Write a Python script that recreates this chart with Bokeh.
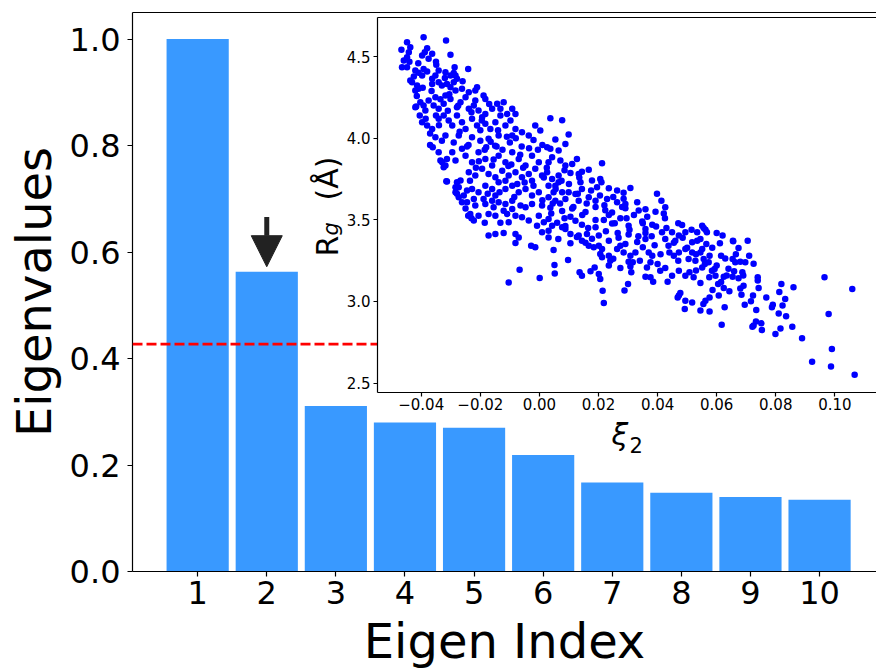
import math
from bokeh.plotting import figure
from bokeh.models import (LinearAxis, FixedTicker, Span, Arrow, NormalHead, Label,
                          Range1d, CustomJSTickFormatter, PrintfTickFormatter)
from bokeh.embed import file_html
from bokeh.resources import INLINE

FONT = "DejaVu Sans"
BAR_COLOR = "#3999ff"
DOT_COLOR = "#0000ff"
INK = "#000000"

# ---------------- main bar chart data ----------------
eigen_index = [1, 2, 3, 4, 5, 6, 7, 8, 9, 10]
eigenvalues = [1.000, 0.563, 0.311, 0.280, 0.270, 0.219, 0.167, 0.148, 0.140, 0.135]
eigen_ticks = [0.0, 0.2, 0.4, 0.6, 0.8, 1.0]
threshold = 0.427
marked_index = 2
arrow_from = 0.666
arrow_to = 0.5725

# ---------------- inset scatter data ----------------
xi2_ticks = [-0.04, -0.02, 0.0, 0.02, 0.04, 0.06, 0.08, 0.10]
rg_ticks = [2.5, 3.0, 3.5, 4.0, 4.5]

xi2 = [
    -0.0392, -0.0316, -0.0448, -0.0437, -0.0467, -0.0442, -0.0448, -0.0459, -0.0380, -0.0388,
    -0.0397, -0.0375, -0.0363, -0.0301, -0.0465, -0.0448, -0.0420, -0.0409, -0.0392, -0.0349,
    -0.0341, -0.0318, -0.0287, -0.0284, -0.0301, -0.0241, -0.0431, -0.0414, -0.0409, -0.0420,
    -0.0397, -0.0363, -0.0352, -0.0363, -0.0341, -0.0330, -0.0313, -0.0301, -0.0290, -0.0279,
    -0.0284, -0.0262, -0.0239, -0.0217, -0.0211, -0.0189, -0.0183, -0.0403, -0.0420, -0.0392,
    -0.0386, -0.0375, -0.0352, -0.0358, -0.0341, -0.0324, -0.0318, -0.0301, -0.0279, -0.0267,
    -0.0250, -0.0239, -0.0222, -0.0217, -0.0206, -0.0183, -0.0160, -0.0143, -0.0121, -0.0132,
    -0.0109, -0.0092, -0.0081, -0.0397, -0.0380, -0.0363, -0.0341, -0.0324, -0.0307, -0.0295,
    -0.0279, -0.0262, -0.0250, -0.0228, -0.0211, -0.0194, -0.0183, -0.0166, -0.0149, -0.0132,
    -0.0115, -0.0098, -0.0081, -0.0059, -0.0036, -0.0014, 0.0003, -0.0092, -0.0138, -0.0172,
    -0.0228, -0.0273, -0.0318, -0.0352, -0.0417, -0.0405, -0.0361, -0.0329, -0.0324, -0.0313,
    -0.0279, -0.0273, -0.0284, -0.0273, -0.0262, -0.0437, -0.0290, -0.0240, -0.0200, -0.0150,
    -0.0100, -0.0060, -0.0020, -0.0330, -0.0180, 0.0010, -0.0315, -0.0370, -0.0341, -0.0335,
    -0.0318, -0.0313, -0.0284, -0.0295, -0.0262, -0.0284, -0.0279, -0.0256, -0.0245, -0.0267,
    -0.0228, -0.0206, -0.0222, -0.0245, -0.0250, -0.0217, -0.0241, -0.0230, -0.0222, -0.0234,
    -0.0206, -0.0185, -0.0172, -0.0149, -0.0121, -0.0172, -0.0149, -0.0132, -0.0104, -0.0109,
    -0.0121, -0.0092, -0.0081, -0.0070, -0.0081, -0.0028, -0.0014, -0.0189, -0.0183, -0.0160,
    -0.0155, -0.0138, -0.0115, -0.0092, -0.0064, -0.0047, -0.0025, 0.0009, -0.0081, -0.0059,
    -0.0036, -0.0002, 0.0015, -0.0008, 0.0009, -0.0250, -0.0228, -0.0206, -0.0183, -0.0160,
    -0.0138, -0.0115, -0.0092, -0.0070, -0.0047, -0.0025, -0.0002, -0.0239, -0.0217, -0.0194,
    -0.0172, -0.0149, -0.0126, -0.0104, -0.0081, -0.0059, -0.0036, -0.0014, 0.0009, -0.0183,
    -0.0160, -0.0138, -0.0115, -0.0092, -0.0070, -0.0047, -0.0025, -0.0002, -0.0149, 0.0037,
    0.0077, 0.0099, 0.0054, 0.0088, 0.0065, 0.0037, 0.0026, 0.0212, 0.0127, 0.0111,
    0.0088, 0.0071, 0.0043, 0.0031, 0.0167, 0.0144, 0.0133, 0.0206, 0.0178, 0.0210,
    0.0105, 0.0085, 0.0065, 0.0043, 0.0026, 0.0235, 0.0263, 0.0285, 0.0308, 0.0398,
    0.0413, 0.0426, 0.0331, 0.0291, 0.0263, 0.0229, 0.0190, 0.0167, 0.0144, 0.0122,
    0.0099, 0.0077, 0.0048, 0.0031, 0.0054, 0.0088, 0.0133, 0.0139, 0.0031, 0.0054,
    0.0065, 0.0218, 0.0214, 0.0288, 0.0300, 0.0206, 0.0201, 0.0173, 0.0144, 0.0136,
    0.0187, 0.0097, 0.0051, 0.0052, 0.0048, 0.0064, 0.0105, 0.0311, 0.0274, 0.0235,
    0.0240, 0.0212, 0.0206, 0.0316, 0.0308, 0.0359, 0.0376, 0.0385, 0.0409, 0.0426,
    0.0449, 0.0434, 0.0472, 0.0477, 0.0494, 0.0517, 0.0492, 0.0545, 0.0508, 0.0522,
    0.0545, 0.0472, 0.0494, 0.0364, 0.0376, 0.0382, 0.0350, 0.0359, 0.0390, 0.0308,
    0.0325, 0.0302, 0.0263, 0.0274, 0.0285, 0.0250, 0.0235, 0.0167, 0.0184, 0.0201,
    0.0212, 0.0133, 0.0144, 0.0161, 0.0105, 0.0088, 0.0077, 0.0031, 0.0031, 0.0043,
    0.0415, 0.0426, 0.0437, 0.0460, 0.0483, 0.0494, 0.0517, 0.0534, 0.0517, 0.0505,
    0.0528, 0.0551, 0.0556, 0.0551, 0.0472, 0.0449, 0.0494, 0.0472, 0.0455, 0.0551,
    0.0545, 0.0534, 0.0470, 0.0556, 0.0600, 0.0655, 0.0037, 0.0077, 0.0111, 0.0156,
    0.0190, 0.0223, 0.0246, 0.0291, 0.0336, 0.0359, 0.0393, 0.0421, 0.0031, 0.0060,
    0.0088, 0.0122, 0.0144, 0.0190, 0.0218, 0.0246, 0.0274, 0.0302, 0.0348, 0.0359,
    0.0382, 0.0127, 0.0156, 0.0178, 0.0201, 0.0235, 0.0268, 0.0291, 0.0302, 0.0331,
    0.0359, 0.0965, 0.1059, 0.0979, 0.0990, 0.0923, 0.0987, 0.1067, 0.0889, 0.0856,
    0.0799, 0.0816, 0.0860, 0.0819, 0.0812, 0.0832, 0.0823, 0.0790, 0.0787, 0.0810,
    0.0835, 0.0768, 0.0734, 0.0733, 0.0721, 0.0725, 0.0751, 0.0753, 0.0695, 0.0723,
    0.0716, 0.0742, 0.0739, 0.0739, 0.0684, 0.0691, 0.0680, 0.0687, 0.0674, 0.0659,
    0.0654, 0.0643, 0.0624, 0.0607, 0.0627, 0.0617, 0.0576, 0.0576, 0.0586, 0.0605,
    0.0624, 0.0634, 0.0596, 0.0584, 0.0593, 0.0575, 0.0562, 0.0615, 0.0629, 0.0654,
    0.0663, 0.0680, 0.0697, 0.0725, 0.0576, 0.0573, 0.0611, 0.0620, 0.0656, 0.0674,
    0.0705, 0.0562, 0.0567, 0.0565, 0.0468, 0.0555, -0.0104, -0.0067, 0.0001,
    -0.0440, -0.0425, -0.0410, -0.0395, -0.0380, -0.0365, -0.0350, -0.0335, -0.0320, -0.0305,
    -0.0290, -0.0275, -0.0260, -0.0350, -0.0385, -0.0415, -0.0370, -0.0340, -0.0310, -0.0270,
    -0.0245, -0.0230, -0.0215, -0.0200, -0.0185, -0.0170, -0.0155, -0.0140, -0.0125, -0.0110,
    -0.0095, -0.0080, -0.0065, -0.0050, -0.0035, -0.0020, -0.0005, -0.0235, -0.0205, -0.0175,
    -0.0145, -0.0115, -0.0085, -0.0055, -0.0025, -0.0195, -0.0165, -0.0135, -0.0105, -0.0075,
    0.0010, 0.0025, 0.0040, 0.0055, 0.0070, 0.0085, 0.0100, 0.0115, 0.0130, 0.0145,
    0.0160, 0.0175, 0.0190, 0.0205, 0.0220, 0.0235, 0.0250, 0.0265, 0.0280, 0.0295,
    0.0015, 0.0045, 0.0075, 0.0105, 0.0135, 0.0165, 0.0195, 0.0225, 0.0255, 0.0285,
    0.0305, 0.0320, 0.0335, 0.0350, 0.0365, 0.0380, 0.0395, 0.0410, 0.0425, 0.0440,
    0.0455, 0.0470, 0.0485, 0.0500, 0.0515, 0.0530, 0.0340, 0.0370, 0.0400, 0.0430,
    0.0530, 0.0545, 0.0560, 0.0585, 0.0600, 0.0615, 0.0640, 0.0665, 0.0690, 0.0710,
]

rg = [
    4.620, 4.600, 4.590, 4.559, 4.543, 4.528, 4.498, 4.477, 4.553, 4.528,
    4.508, 4.488, 4.518, 4.512, 4.436, 4.436, 4.416, 4.402, 4.426, 4.451,
    4.416, 4.405, 4.436, 4.385, 4.385, 4.426, 4.344, 4.324, 4.304, 4.293,
    4.385, 4.365, 4.385, 4.334, 4.344, 4.324, 4.334, 4.314, 4.344, 4.365,
    4.293, 4.304, 4.283, 4.293, 4.314, 4.263, 4.242, 4.221, 4.191, 4.201,
    4.171, 4.232, 4.252, 4.201, 4.181, 4.212, 4.263, 4.242, 4.191, 4.221,
    4.252, 4.181, 4.201, 4.232, 4.171, 4.150, 4.181, 4.212, 4.221, 4.181,
    4.150, 4.181, 4.150, 4.099, 4.079, 4.058, 4.120, 4.140, 4.109, 4.079,
    4.140, 4.099, 4.058, 4.120, 4.079, 4.129, 4.089, 4.058, 4.099, 4.140,
    4.079, 4.109, 4.058, 4.037, 4.017, 4.079, 4.048, 4.017, 4.017, 3.997,
    4.007, 4.017, 4.017, 4.007, 4.195, 4.140, 3.945, 3.853, 3.823, 3.735,
    3.731, 3.700, 3.669, 3.639, 3.608, 4.355, 3.975, 3.960, 3.985, 3.955,
    3.975, 3.950, 3.990, 3.985, 3.945, 3.960, 3.737, 3.960, 3.915, 3.864,
    3.833, 3.874, 3.864, 3.915, 3.936, 3.700, 3.660, 3.649, 3.680, 3.741,
    3.690, 3.669, 3.629, 3.608, 3.570, 3.588, 3.526, 3.510, 3.496, 3.537,
    3.526, 3.482, 3.404, 3.414, 3.420, 3.537, 3.526, 3.482, 3.486, 3.537,
    3.557, 3.567, 3.414, 3.393, 3.359, 3.342, 3.332, 3.629, 3.598, 3.618,
    3.577, 3.608, 3.598, 3.618, 3.588, 3.577, 3.598, 3.588, 3.526, 3.516,
    3.496, 3.526, 3.486, 3.465, 3.424, 3.894, 3.853, 3.915, 3.874, 3.833,
    3.894, 3.853, 3.915, 3.874, 3.833, 3.894, 3.853, 3.792, 3.772, 3.813,
    3.782, 3.761, 3.802, 3.772, 3.792, 3.761, 3.782, 3.813, 3.772, 3.710,
    3.690, 3.731, 3.690, 3.710, 3.669, 3.690, 3.649, 3.669, 3.649, 4.123,
    4.111, 4.023, 3.993, 3.966, 3.925, 3.936, 3.945, 3.847, 3.874, 3.843,
    3.833, 3.864, 3.884, 3.853, 3.807, 3.796, 3.782, 3.751, 3.741, 3.731,
    3.788, 3.805, 3.772, 3.751, 3.792, 3.694, 3.680, 3.666, 3.696, 3.661,
    3.618, 3.577, 3.608, 3.598, 3.608, 3.629, 3.618, 3.639, 3.690, 3.659,
    3.669, 3.669, 3.669, 3.639, 3.618, 3.629, 3.618, 3.731, 3.710, 3.710,
    3.731, 2.991, 3.066, 3.068, 3.107, 3.138, 3.169, 3.185, 3.158, 3.179,
    3.209, 3.255, 3.224, 3.172, 3.316, 3.383, 3.357, 3.179, 3.206, 3.220,
    3.250, 3.271, 3.291, 3.240, 3.215, 3.152, 3.148, 3.121, 3.189, 3.206,
    3.158, 3.121, 3.036, 3.052, 3.005, 2.994, 2.954, 2.944, 3.179, 3.148,
    3.114, 3.189, 3.158, 3.209, 3.240, 3.281, 3.332, 3.383, 3.345, 3.281,
    3.300, 3.244, 3.322, 3.342, 3.301, 3.262, 3.281, 3.342, 3.332, 3.342,
    3.322, 3.404, 3.373, 3.414, 3.414, 3.445, 3.455, 3.393, 3.434, 3.465,
    3.424, 3.383, 3.342, 3.373, 3.469, 3.424, 3.363, 3.373, 3.301, 3.261,
    3.250, 3.322, 3.261, 3.209, 3.404, 3.424, 3.322, 3.301, 3.280, 3.465,
    3.383, 3.424, 3.480, 3.451, 3.420, 3.373, 3.575, 3.555, 3.570, 3.548,
    3.580, 3.560, 3.545, 3.572, 3.558, 3.565, 3.550, 3.540, 3.505, 3.483,
    3.462, 3.495, 3.470, 3.455, 3.500, 3.478, 3.510, 3.465, 3.490, 3.445,
    3.470, 3.395, 3.360, 3.385, 3.405, 3.372, 3.390, 3.352, 3.410, 3.365,
    3.420, 3.148, 3.077, 2.923, 2.709, 2.631, 2.602, 2.551, 2.774, 2.845,
    2.800, 2.835, 3.087, 3.107, 3.058, 3.015, 2.976, 2.980, 2.964, 2.927,
    2.909, 3.025, 2.948, 2.878, 2.845, 2.853, 2.866, 2.825, 2.980, 3.036,
    3.001, 3.083, 3.128, 3.148, 3.042, 3.097, 3.080, 3.179, 3.142, 3.185,
    3.152, 3.062, 3.083, 3.036, 2.964, 2.858, 2.938, 3.025, 3.070, 3.107,
    3.152, 3.160, 3.158, 3.189, 3.199, 3.148, 3.005, 3.281, 3.264, 3.261,
    3.240, 3.244, 3.240, 3.232, 3.281, 3.240, 3.357, 3.404, 3.369, 3.328,
    3.373, 3.439, 3.424, 3.353, 3.025, 2.985, 3.117, 3.195, 3.144,
    4.470, 4.380, 4.460, 4.310, 4.410, 4.290, 4.470, 4.240, 4.370, 4.270,
    4.400, 4.200, 4.350, 4.140, 4.120, 4.260, 4.030, 4.080, 4.170, 4.040,
    3.950, 4.160, 3.820, 4.050, 3.930, 4.210, 3.870, 4.050, 3.930, 4.010,
    3.840, 4.000, 3.900, 3.730, 3.940, 3.710, 3.930, 3.740, 3.860, 3.660,
    3.950, 3.740, 3.640, 3.820, 3.740, 4.110, 3.980, 3.670, 3.830, 3.720,
    3.620, 3.820, 3.540, 3.690, 3.600, 3.510, 3.720, 3.580, 3.660, 3.530,
    3.600, 3.680, 3.500, 3.650, 3.590, 3.530, 3.640, 3.420, 3.580, 3.510,
    3.760, 3.600, 3.740, 3.520, 3.760, 3.450, 3.700, 3.430, 3.480, 3.630,
    3.440, 3.530, 3.400, 3.480, 3.520, 3.400, 3.460, 3.290, 3.510, 3.300,
    3.360, 3.250, 3.390, 3.330, 3.440, 3.290, 3.250, 3.300, 3.230, 3.450,
    3.190, 3.300, 3.230, 3.330, 3.220, 3.120, 3.200, 3.290, 3.160, 3.280,
]

n_pts = min(len(xi2), len(rg))
xi2, rg = xi2[:n_pts], rg[:n_pts]


def style_axis(ax, label_px, tick_out, standoff):
    ax.major_label_text_font = FONT
    ax.major_label_text_font_size = f"{label_px}px"
    ax.major_label_text_color = INK
    ax.major_tick_out = tick_out
    ax.major_tick_in = 0
    ax.minor_tick_out = 0
    ax.minor_tick_in = 0
    ax.axis_line_color = INK
    ax.major_tick_line_color = INK
    ax.axis_line_width = 1.2
    ax.major_tick_line_width = 1.2
    ax.major_label_standoff = standoff
    ax.axis_label_text_font = FONT
    ax.axis_label_text_font_style = "normal"
    ax.axis_label_text_color = INK


def spine_above(fig):
    top = LinearAxis(ticker=FixedTicker(ticks=[]), major_label_text_font_size="0px",
                     major_tick_out=0, major_tick_in=0, minor_tick_out=0, minor_tick_in=0,
                     major_label_standoff=0, axis_line_width=1.2, axis_line_color=INK)
    fig.add_layout(top, "above")


# ---------------- main figure ----------------
p = figure(width=876, height=671, x_range=Range1d(0.057, 10.824), y_range=Range1d(0, 1.05),
           output_backend="svg", toolbar_location=None,
           min_border_left=132, min_border_right=0, min_border_top=12, min_border_bottom=99)
p.outline_line_color = None
p.xgrid.visible = False
p.ygrid.visible = False
p.background_fill_color = "white"
p.border_fill_color = "white"

p.vbar(x=eigen_index, top=eigenvalues, width=0.9, fill_color=BAR_COLOR, line_color=None)

style_axis(p.xaxis[0], 32, 5, 4)
p.xaxis.ticker = FixedTicker(ticks=eigen_index)
p.xaxis.axis_label = "Eigen Index"
p.xaxis.axis_label_text_font_size = "48px"
p.xaxis.axis_label_standoff = 6

style_axis(p.yaxis[0], 32, 5, 7)
p.yaxis.ticker = FixedTicker(ticks=eigen_ticks)
p.yaxis.formatter = PrintfTickFormatter(format="%.1f")
p.yaxis.axis_label = "Eigenvalues"
p.yaxis.axis_label_text_font_size = "48px"
p.yaxis.axis_label_standoff = 5
spine_above(p)

p.add_layout(Span(location=threshold, dimension="width", line_color="red",
                  line_dash="10 4", line_width=2.7))
p.add_layout(Arrow(end=NormalHead(size=31, fill_color="#222222", line_color="#222222"),
                   x_start=marked_index, y_start=arrow_from, x_end=marked_index, y_end=arrow_to,
                   line_width=5, line_color="#222222"))

# inset axis titles (mathtext-like pieces), placed in the free area of the main frame
x0 = p.x_range.start
y0 = p.y_range.start
quarter = math.pi / 2
for txt, dx, dy, size, style, ang in [("R", 195, 315, "30px", "normal", quarter),
                                      ("g", 198, 336, "21px", "italic", quarter),
                                      ("(Å)", 195, 371, "30px", "normal", quarter),
                                      ("ξ", 479, 137, "30px", "italic", 0.0),
                                      ("2", 497, 127, "21px", "normal", 0.0)]:
    p.add_layout(Label(x=x0, y=y0, x_offset=dx, y_offset=dy, text=txt, angle=ang,
                       text_font=FONT, text_font_size=size, text_font_style=style,
                       text_color=INK, text_baseline="alphabetic", text_align="left"))

# ---------------- inset figure (overlaid on the main one) ----------------
q = figure(width=876, height=671, x_range=Range1d(-0.0548, 0.1141), y_range=Range1d(2.442, 4.741),
           output_backend="svg", toolbar_location=None,
           min_border_left=377, min_border_right=0, min_border_top=17, min_border_bottom=279)
q.border_fill_color = None
q.border_fill_alpha = 0
q.background_fill_color = "white"
q.outline_line_color = None
q.xgrid.visible = False
q.ygrid.visible = False
q.styles = {"position": "absolute", "left": "0px", "top": "0px", "z-index": "2"}

q.scatter(xi2, rg, size=6.5, fill_color=DOT_COLOR, line_color=None)

style_axis(q.xaxis[0], 15, 4, 1)
q.xaxis.ticker = FixedTicker(ticks=xi2_ticks)
q.xaxis.formatter = CustomJSTickFormatter(
    code='return (tick < -1e-9 ? "\\u2212" : "") + Math.abs(tick).toFixed(2);')

style_axis(q.yaxis[0], 15, 4, 3)
q.yaxis.ticker = FixedTicker(ticks=rg_ticks)
q.yaxis.formatter = PrintfTickFormatter(format="%.1f")
spine_above(q)

open("out.html", "w").write(file_html([p, q], INLINE))
